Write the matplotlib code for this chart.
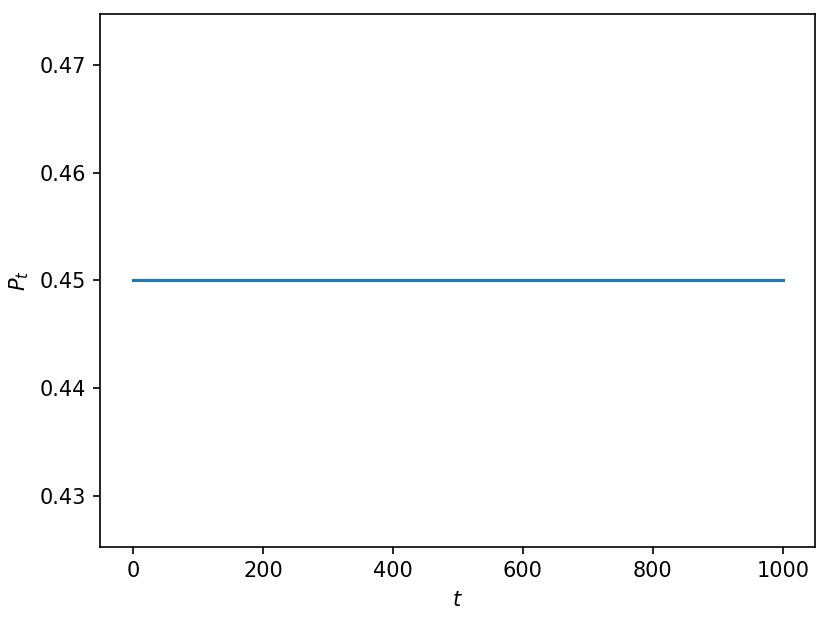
import matplotlib
matplotlib.use('Agg')
import matplotlib.pyplot as plt

# time steps and price, flat over the whole run
t = [0, 1000]
P = [0.45, 0.45]

fig, ax = plt.subplots(figsize=(830 / 150, 622 / 150), dpi=150)
fig.subplots_adjust(left=0.121, right=0.9823, top=0.9775, bottom=0.1211)
ax.plot(t, P)
ax.set_xlabel('$t$')
ax.set_ylabel('$P_t$')
fig.savefig('out.png')
